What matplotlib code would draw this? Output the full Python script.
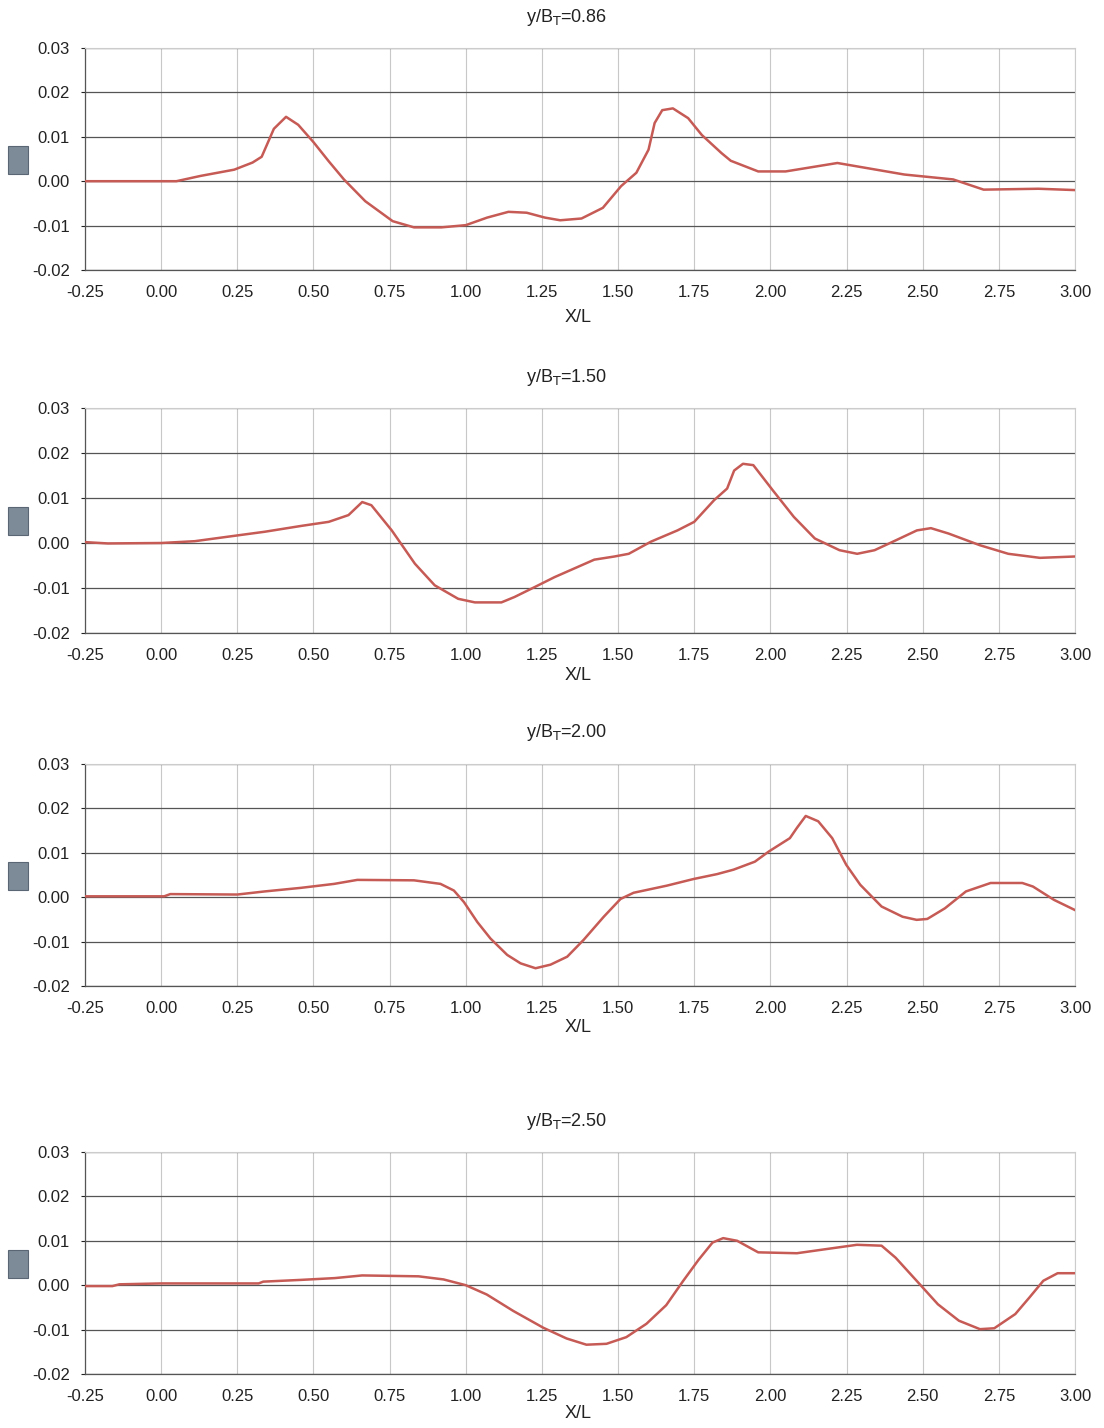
import matplotlib
matplotlib.use("Agg")
import matplotlib.pyplot as plt
from matplotlib.patches import Rectangle

plt.rcParams['font.family'] = ['Liberation Sans', 'DejaVu Sans']

titles = ["y/B$_{\\mathrm{T}}$=0.86", "y/B$_{\\mathrm{T}}$=1.50",
          "y/B$_{\\mathrm{T}}$=2.00", "y/B$_{\\mathrm{T}}$=2.50"]

x1 = [-0.25, 0.05, 0.13, 0.24, 0.30, 0.33, 0.37, 0.41, 0.45, 0.50, 0.55, 0.60, 0.67, 0.76,
      0.83, 0.92, 1.00, 1.07, 1.14, 1.20, 1.26, 1.31, 1.38, 1.45, 1.51, 1.56, 1.60, 1.62, 1.645,
      1.68, 1.73, 1.775, 1.84, 1.87, 1.96, 2.05, 2.22, 2.44, 2.60, 2.70, 2.88, 3.00]
y1 = [0.0, 0.0, 0.0012, 0.0026, 0.0042, 0.0055, 0.0118, 0.0145, 0.0127, 0.0088, 0.0045,
      0.0004, -0.0045, -0.009, -0.0104, -0.0104, -0.0099, -0.0082, -0.0069, -0.0071, -0.0082,
      -0.0088, -0.0084, -0.006, -0.0011, 0.0019, 0.0071, 0.0131, 0.016, 0.0164, 0.0142, 0.0104,
      0.0063, 0.0046, 0.0022, 0.0022, 0.0041, 0.0015, 0.0004, -0.0019, -0.0017, -0.002]

x2 = [-0.25, -0.175, 0.0, 0.11, 0.23, 0.34, 0.46, 0.55, 0.615, 0.66, 0.69, 0.757, 0.833,
      0.898, 0.975, 1.03, 1.117, 1.16, 1.226, 1.291, 1.422, 1.488, 1.535, 1.608, 1.695, 1.75,
      1.815, 1.858, 1.881, 1.91, 1.944, 2.008, 2.077, 2.146, 2.227, 2.285, 2.342, 2.412, 2.481,
      2.527, 2.585, 2.688, 2.781, 2.885, 3.0]
y2 = [0.0002, -0.0001, 0.0, 0.0004, 0.0015, 0.0025, 0.0038, 0.0047, 0.0062, 0.0091, 0.0084,
      0.0028, -0.0046, -0.0094, -0.0124, -0.0132, -0.0132, -0.012, -0.0098, -0.0076, -0.0037,
      -0.003, -0.0024, 0.0003, 0.0028, 0.0047, 0.0095, 0.0121, 0.0161, 0.0176, 0.0173, 0.0117,
      0.0058, 0.001, -0.0016, -0.0024, -0.0016, 0.0006, 0.0028, 0.0033, 0.0021, -0.0005,
      -0.0024, -0.0033, -0.003]

x3 = [-0.25, 0.01, 0.03, 0.25, 0.34, 0.458, 0.568, 0.644, 0.83, 0.917, 0.961, 0.994, 1.038,
      1.081, 1.136, 1.18, 1.229, 1.278, 1.333, 1.387, 1.453, 1.508, 1.551, 1.66, 1.748, 1.825,
      1.879, 1.949, 1.995, 2.064, 2.087, 2.116, 2.157, 2.203, 2.249, 2.295, 2.365, 2.434, 2.48,
      2.515, 2.573, 2.642, 2.723, 2.827, 2.862, 2.931, 3.0]
y3 = [0.0002, 0.0002, 0.0007, 0.0006, 0.0013, 0.0021, 0.003, 0.0039, 0.0038, 0.003, 0.0015,
      -0.0011, -0.0056, -0.0093, -0.013, -0.0149, -0.016, -0.0152, -0.0134, -0.0096, -0.0044,
      -0.0004, 0.001, 0.0026, 0.0041, 0.0052, 0.0062, 0.008, 0.0103, 0.0133, 0.0156, 0.0183,
      0.0171, 0.0133, 0.0073, 0.0028, -0.0021, -0.0044, -0.0051, -0.0049, -0.0025, 0.0013,
      0.0032, 0.0032, 0.0024, -0.0006, -0.0029]

x4 = [-0.25, -0.16, -0.137, 0.0, 0.32, 0.335, 0.46, 0.57, 0.66, 0.845, 0.927, 1.0, 1.069,
      1.156, 1.255, 1.331, 1.396, 1.462, 1.527, 1.593, 1.658, 1.713, 1.764, 1.81, 1.845, 1.891,
      1.96, 2.087, 2.18, 2.284, 2.365, 2.411, 2.48, 2.55, 2.619, 2.688, 2.735, 2.804, 2.85,
      2.896, 2.943, 3.0]
y4 = [-0.0002, -0.0002, 0.0002, 0.0004, 0.0004, 0.0008, 0.0012, 0.0016, 0.0022, 0.002, 0.0013,
      0.0, -0.0021, -0.0058, -0.0096, -0.012, -0.0134, -0.0132, -0.0117, -0.0087, -0.0045,
      0.0009, 0.0057, 0.0096, 0.0106, 0.01, 0.0074, 0.0072, 0.0081, 0.0091, 0.0089, 0.0062,
      0.001, -0.0043, -0.008, -0.0099, -0.0097, -0.0065, -0.0028, 0.001, 0.0027, 0.0027]

xs = [x1, x2, x3, x4]
ys = [y1, y2, y3, y4]

xticks = [-0.25, 0.0, 0.25, 0.5, 0.75, 1.0, 1.25, 1.5, 1.75, 2.0, 2.25, 2.5, 2.75, 3.0]
yticks = [-0.02, -0.01, 0.0, 0.01, 0.02, 0.03]

W, H = 1104, 1428
fig = plt.figure(figsize=(W / 100, H / 100), dpi=100)

# (top px, bottom px, title y px, xlabel y px)
layout = [(48, 270, 17, 318), (408, 633, 378, 675), (764, 986, 733, 1027), (1152, 1374, 1122, 1414)]
left_px, right_px = 85, 1075

for i, (top, bot, ty, ly) in enumerate(layout):
    ax = fig.add_axes([left_px / W, 1 - bot / H, (right_px - left_px) / W, (bot - top) / H])
    ax.set_xlim(-0.25, 3.0)
    ax.set_ylim(-0.02, 0.03)
    ax.set_xticks(xticks)
    ax.set_yticks(yticks)
    ax.set_xticklabels([f"{t:.2f}" for t in xticks])
    ax.set_yticklabels([f"{t:.2f}" for t in yticks])
    for t in xticks:
        ax.axvline(t, color="#c8c8c8", lw=0.8, zorder=1)
    for t in yticks:
        ax.axhline(t, color="#555555", lw=0.9, zorder=1)
    ax.plot(xs[i], ys[i], color="#c65a55", lw=1.8, zorder=3)
    for s in ["top", "right"]:
        ax.spines[s].set_color("#cccccc")
        ax.spines[s].set_linewidth(0.8)
    for s in ["left", "bottom"]:
        ax.spines[s].set_color("#555555")
        ax.spines[s].set_linewidth(0.9)
    ax.tick_params(axis="x", length=0, pad=11, labelsize=12, colors="#222222")
    ax.tick_params(axis="y", length=3, pad=8, labelsize=12, colors="#222222")
    fig.text(567 / W, 1 - ty / H, titles[i], ha="center", va="center", fontsize=13, color="#222222")
    fig.text(578 / W, 1 - ly / H, "X/L", ha="center", va="center", fontsize=13, color="#222222")
    # small grey icon used as y-axis label
    yc = top + (bot - top) * ((0.03 - 0.0048) / 0.05)
    fig.patches.append(Rectangle((8 / W, 1 - (yc + 14) / H), 20 / W, 28 / H,
                                 transform=fig.transFigure, facecolor="#7d8a97",
                                 edgecolor="#5a6673", lw=0.8))

fig.savefig("out.png", dpi=100)
